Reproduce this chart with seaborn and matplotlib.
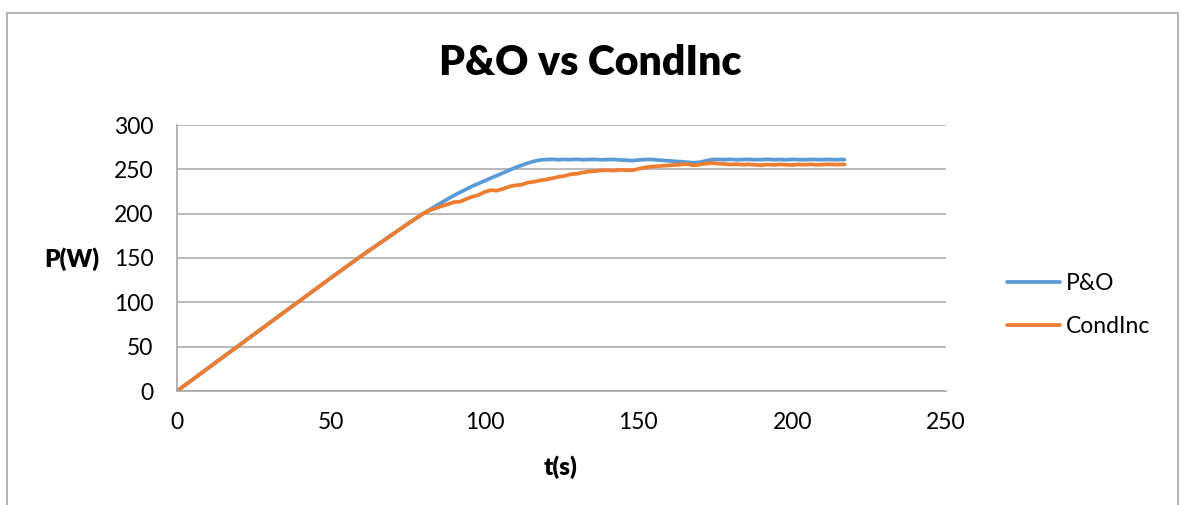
import numpy as np
import pandas as pd
import matplotlib
matplotlib.use("Agg")
import matplotlib.pyplot as plt
import seaborn as sns
from matplotlib.patches import Rectangle

# ---- data ----
t = [0, 5, 10, 15, 20, 25, 30, 35, 40, 45, 50, 55, 60, 65, 70, 75, 80,
     82, 84, 86, 88, 90, 92, 94, 96, 98, 100, 102, 104, 106, 108, 110, 112, 114, 116, 118,
     120, 122, 124, 126, 128, 130, 132, 134, 136, 138, 140, 142, 144, 146, 148, 150,
     152, 154, 156, 158, 160, 162, 164, 166, 168, 170, 172, 174, 176, 178, 180,
     182, 184, 186, 188, 190, 192, 194, 196, 198, 200, 202, 204, 206, 208, 210,
     212, 214, 216, 217]

p_po = [0, 12.7, 25.5, 38.3, 51, 63.8, 76.5, 89.3, 102, 114.7, 127.5, 140, 152.5, 164.5, 176.5, 188.5, 200,
        204, 208.5, 212.5, 216.5, 220.5, 224, 227.5, 231, 234, 237, 240, 243, 246, 249, 252, 254.5, 257, 259, 260.5,
        261, 261.3, 260.8, 261.2, 260.9, 261.3, 260.8, 261.1, 261.2, 260.7, 261, 261.2, 260.6, 260.3, 259.8, 260.6,
        261, 261.2, 260.6, 260, 259.6, 259, 258.6, 258, 257.4, 258, 259.6, 261, 261.2, 260.9, 261.3,
        260.8, 261.1, 261.2, 260.8, 261, 261.3, 260.9, 261.1, 260.8, 261.2, 261, 260.8, 261.2, 261, 260.9,
        261.2, 260.8, 261.1, 261]

p_ci = [0, 12.7, 25.5, 38.3, 51, 63.8, 76.5, 89.3, 102, 114.7, 127.5, 140, 152.5, 164.5, 176.5, 188.5, 200,
        203.5, 206, 208.5, 210.5, 213, 213.5, 216.5, 219, 221, 224.5, 226.5, 226, 228, 230.5, 232, 232.5, 235, 236, 237.5,
        238.5, 240, 241.5, 242.5, 244.5, 245, 246.5, 247.5, 248, 248.8, 249, 248.5, 249.5, 249, 249, 250.5,
        252, 253, 253.5, 254, 254.5, 255, 255.5, 255.8, 254.5, 255.5, 256.5, 257, 256.5, 256, 255.5,
        255.8, 255.2, 255.6, 255, 254.8, 255.4, 255, 255.6, 255.2, 254.9, 255.5, 255.2, 255.6, 255.1, 255.4,
        255.7, 255.3, 255.6, 255.5]

series_names = ["P&O", "CondInc"]
x_ticks = [0, 50, 100, 150, 200, 250]
y_ticks = [0, 50, 100, 150, 200, 250, 300]

df = pd.DataFrame({
    "t": t + t,
    "P": p_po + p_ci,
    "series": [series_names[0]] * len(t) + [series_names[1]] * len(t),
})

sns.set_style("white")
plt.rcParams["font.family"] = ["Lato", "DejaVu Sans"]
plt.rcParams["text.color"] = "black"

W, H = 1182, 505
fig = plt.figure(figsize=(W / 100, H / 100), dpi=100)
ax = fig.add_axes([177 / W, 1 - 391 / H, (946 - 177) / W, (391 - 125) / H])

palette = {"P&O": "#5B9BD5", "CondInc": "#ED7D31"}
sns.lineplot(data=df, x="t", y="P", hue="series", palette=palette, ax=ax,
             linewidth=2.7, legend=True, sort=False)

gray = "#A6A6A6"
ax.set_xlim(0, 250)
ax.set_ylim(0, 300)
ax.set_xticks(x_ticks)
ax.set_yticks(y_ticks)
ax.tick_params(axis="both", labelsize=16.5, colors=gray, labelcolor="black",
               length=6, width=1.2, direction="out")
ax.tick_params(axis="y", pad=11)
ax.tick_params(axis="x", pad=9)
ax.yaxis.grid(True, color=gray, linewidth=1.1)
ax.xaxis.grid(False)
ax.set_axisbelow(True)
for s in ["top", "right"]:
    ax.spines[s].set_visible(False)
for s in ["left", "bottom"]:
    ax.spines[s].set_color(gray)
    ax.spines[s].set_linewidth(1.2)

ax.set_xlabel("")
ax.set_ylabel("")
fig.text(561 / W, 1 - 467 / H, "t(s)", ha="center", va="center",
         fontsize=17.5, fontweight="heavy", color="black")
fig.text(72 / W, 1 - 259 / H, "P(W)", ha="center", va="center",
         fontsize=17.5, fontweight="heavy", color="black")
fig.text(590 / W, 1 - 63 / H, "P&O vs CondInc", ha="center", va="center",
         fontsize=29.5, fontweight="heavy", color="black")

handles, labels = ax.get_legend_handles_labels()
leg = ax.legend(handles, labels, loc="center left",
                bbox_to_anchor=(1007 / W, 1 - 305 / H), bbox_transform=fig.transFigure,
                frameon=False, fontsize=16.5, handlelength=2.3, handletextpad=0.25,
                labelspacing=1.0, borderpad=0, borderaxespad=0)
for txt in leg.get_texts():
    txt.set_color("black")

fig.patches.append(Rectangle((7 / W, -0.05), (1178 - 7) / W, 1 - 13 / H + 0.05,
                             transform=fig.transFigure, fill=False,
                             edgecolor=gray, linewidth=1.2))

fig.savefig("out.png", dpi=100)
